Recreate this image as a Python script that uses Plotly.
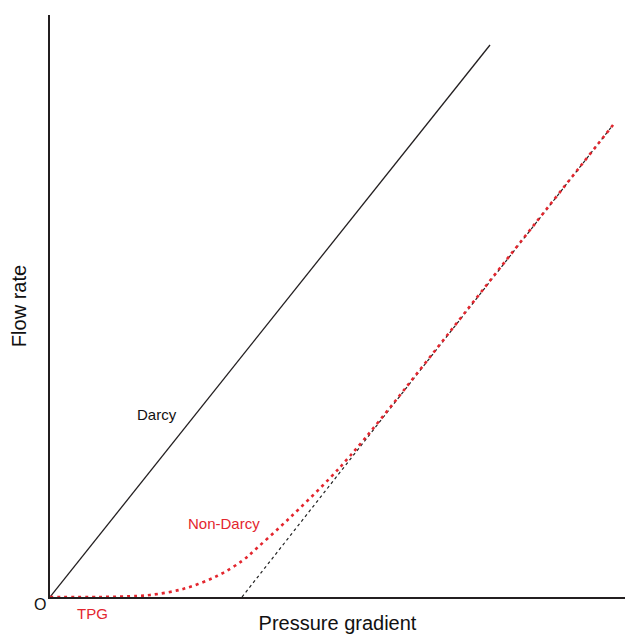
import plotly.graph_objects as go

# Data (in chart units; origin at axis corner)
darcy_x = [0, 440]
darcy_y = [0, 552]

asym_x = [192, 563]
asym_y = [0, 472]

nd_x = [0, 50, 87, 100, 133, 167, 192, 207, 230, 250, 280, 300, 330, 380, 450, 563]
nd_y = [0, 0, 1, 2, 8, 21, 36, 49, 70, 89, 119, 141, 177, 240, 329, 472]

FONT = "Liberation Sans, Arial, sans-serif"
RED = "#e3262e"

fig = go.Figure()
fig.add_trace(go.Scatter(x=asym_x, y=asym_y, mode="lines",
                         line=dict(color="#222222", width=1.2, dash="3px,3px"),
                         hoverinfo="skip"))
fig.add_trace(go.Scatter(x=darcy_x, y=darcy_y, mode="lines",
                         line=dict(color="#231f20", width=1.3),
                         hoverinfo="skip"))
fig.add_trace(go.Scatter(x=nd_x, y=nd_y, mode="lines", line_shape="spline",
                         line=dict(color=RED, width=2.6, dash="3px,4px"),
                         hoverinfo="skip"))

fig.update_xaxes(range=[0, 575], showgrid=False, zeroline=False, showticklabels=False,
                 ticks="", showline=True, linecolor="#231f20", linewidth=2)
fig.update_yaxes(range=[0, 582], showgrid=False, zeroline=False, showticklabels=False,
                 ticks="", showline=True, linecolor="#231f20", linewidth=2)

annots = [
    dict(x=107, y=183, text="Darcy", color="#111111", size=15),
    dict(x=174, y=74, text="Non-Darcy", color=RED, size=15),
]
for a in annots:
    fig.add_annotation(x=a["x"], y=a["y"], xref="x", yref="y", text=a["text"],
                       showarrow=False, font=dict(family=FONT, size=a["size"], color=a["color"]))

fig.add_annotation(x=-10 / 575, y=-7 / 582, xref="paper", yref="paper", text="O", showarrow=False,
                   xanchor="center", yanchor="middle",
                   font=dict(family=FONT, size=16, color="#111111"))
fig.add_annotation(x=42 / 575, y=-17 / 582, xref="paper", yref="paper", text="TPG", showarrow=False,
                   xanchor="center", yanchor="middle",
                   font=dict(family=FONT, size=15, color=RED))

fig.update_layout(
    width=625, height=634,
    margin=dict(l=50, r=0, t=15, b=37),
    paper_bgcolor="white", plot_bgcolor="white",
    showlegend=False,
    xaxis_title=dict(text="Pressure gradient", font=dict(family=FONT, size=20, color="#111111"), standoff=18),
    yaxis_title=dict(text="Flow rate", font=dict(family=FONT, size=20, color="#111111"), standoff=16),
)

fig.write_html("out.html")
